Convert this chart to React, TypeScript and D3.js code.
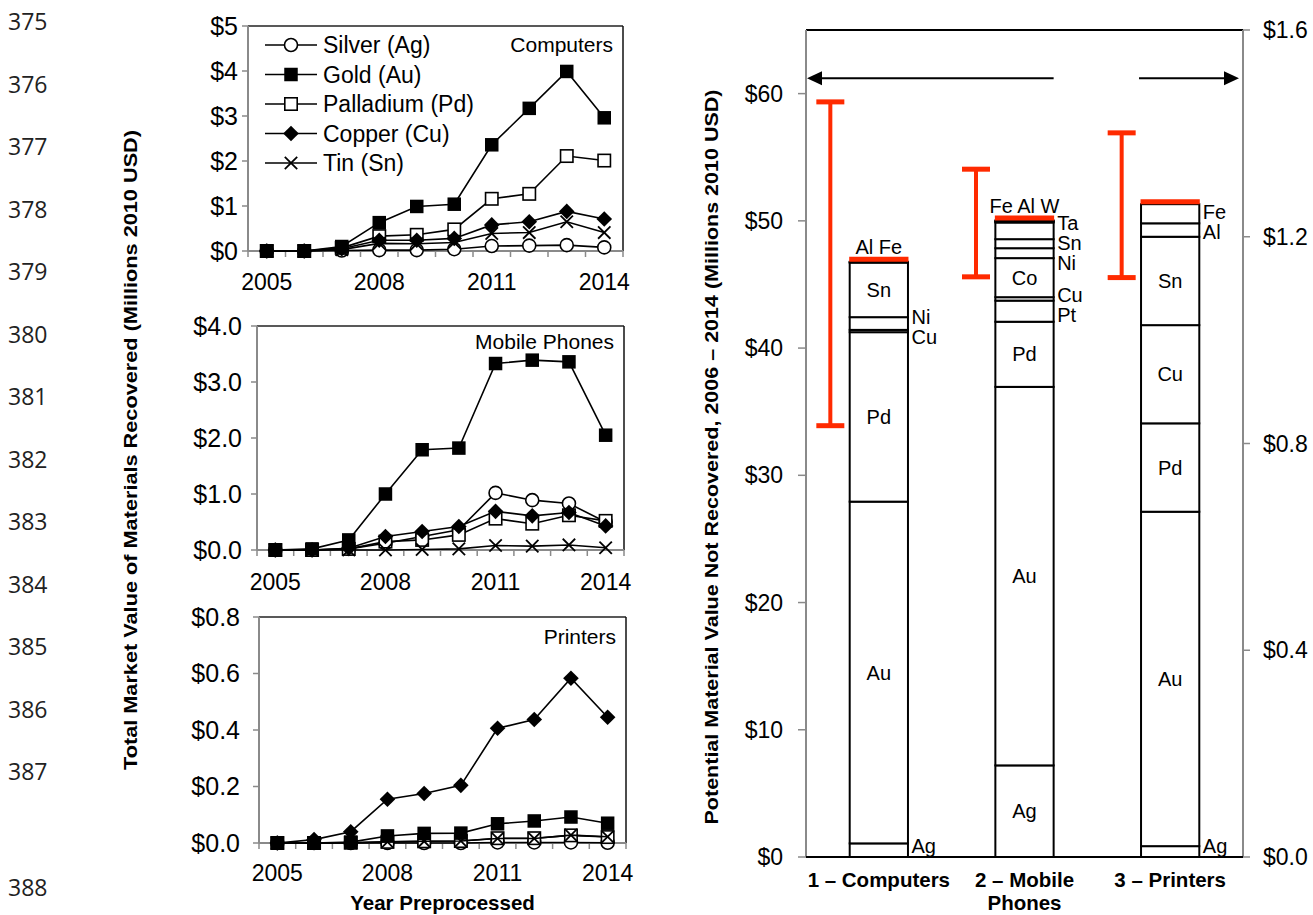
import React from "react";
import * as d3 from "d3";

// ---------------- DATA ----------------
const lineNumbers = ["375", "376", "377", "378", "379", "380", "381", "382", "383", "384", "385", "386", "387", "388"];

const years = [2005, 2006, 2007, 2008, 2009, 2010, 2011, 2012, 2013, 2014];
const yearTickLabels = [2005, 2008, 2011, 2014];
const seriesNames = ["Silver (Ag)", "Gold (Au)", "Palladium (Pd)", "Copper (Cu)", "Tin (Sn)"];

const computersAg = [0, 0, 0.01, 0.02, 0.02, 0.04, 0.11, 0.12, 0.13, 0.08];
const computersAu = [0, 0, 0.1, 0.63, 0.99, 1.04, 2.36, 3.17, 3.99, 2.96];
const computersPd = [0, 0, 0.07, 0.33, 0.36, 0.48, 1.16, 1.27, 2.11, 2.01];
const computersCu = [0, 0, 0.05, 0.24, 0.24, 0.28, 0.58, 0.65, 0.88, 0.71];
const computersSn = [0, 0, 0.03, 0.17, 0.16, 0.19, 0.39, 0.41, 0.65, 0.41];
const computersTicks = [0, 1, 2, 3, 4, 5];

const mobileAg = [0, 0, 0.02, 0.12, 0.24, 0.36, 1.02, 0.89, 0.83, 0.5];
const mobileAu = [0, 0.02, 0.18, 1.0, 1.79, 1.82, 3.33, 3.39, 3.36, 2.05];
const mobilePd = [0, 0, 0.02, 0.15, 0.18, 0.27, 0.56, 0.47, 0.62, 0.52];
const mobileCu = [0, 0, 0.03, 0.24, 0.33, 0.42, 0.69, 0.61, 0.67, 0.43];
const mobileSn = [0, 0, 0, 0.0, 0.01, 0.02, 0.08, 0.07, 0.09, 0.04];
const mobileTicks = [0, 1, 2, 3, 4];

const printersAg = [0, 0, 0, 0, 0, 0, 0.002, 0.002, 0.002, 0.001];
const printersAu = [0, 0, 0.003, 0.025, 0.034, 0.035, 0.068, 0.078, 0.092, 0.07];
const printersPd = [0, 0, 0.001, 0.004, 0.006, 0.007, 0.017, 0.017, 0.027, 0.021];
const printersCu = [0, 0.012, 0.04, 0.155, 0.175, 0.204, 0.406, 0.437, 0.583, 0.445];
const printersSn = [0, 0, 0.001, 0.004, 0.006, 0.007, 0.016, 0.016, 0.028, 0.022];
const printersTicks = [0, 0.2, 0.4, 0.6, 0.8];

const panelTitles = ["Computers", "Mobile Phones", "Printers"];

const stackCategories = ["1 – Computers", "2 – Mobile Phones", "3 – Printers"];
const stackCategoryLines = [["1 – Computers"], ["2 – Mobile", "Phones"], ["3 – Printers"]];

const computersStackMetals = ["Ag", "Au", "Pd", "Cu", "Ni", "Sn", "Al", "Fe"];
const computersStackValues = [1.07, 26.86, 13.32, 0.18, 1.0, 4.29, 0.03, 0.03];

const mobileStackMetals = ["Ag", "Au", "Pd", "Pt", "Cu", "Co", "Ni", "Sn", "Ta", "Fe", "Al", "W"];
const mobileStackValues = [7.2, 29.75, 5.12, 1.66, 0.27, 3.07, 0.78, 0.71, 1.31, 0.06, 0.05, 0.05];

const printersStackMetals = ["Ag", "Au", "Pd", "Cu", "Sn", "Al", "Fe"];
const printersStackValues = [0.021, 0.647, 0.171, 0.19, 0.171, 0.026, 0.037];

const errorLow = [33.9, 45.6, 1.121];
const errorHigh = [59.35, 54.06, 1.401];
const stackAxisSide = ["left", "left", "right"];

const leftStackTicks = [0, 10, 20, 30, 40, 50, 60];
const rightStackTicks = [0, 0.4, 0.8, 1.2, 1.6];

// ---------------- STYLE / LAYOUT ----------------
const FONT = "'Liberation Sans', Arial, Helvetica, sans-serif";
const GRAY = "#8a8a8a";
const RED = "#ff2a00";
const markerTypes = ["circle", "square", "openSquare", "diamond", "cross"];
const drawOrder = [0, 2, 4, 3, 1];

const panelLayouts = [
  { left: 248, right: 623, top: 26, bottom: 251, labelRight: 238, yearY: 282, titleY: 45 },
  { left: 257, right: 624, top: 326, bottom: 550, labelRight: 242, yearY: 582, titleY: 342 },
  { left: 259, right: 626, top: 617, bottom: 843, labelRight: 240, yearY: 873, titleY: 637 },
];

const RC = { left: 806, right: 1243, top: 30, bottom: 857 };

function Marker({ type, x, y }: { type: string; x: number; y: number }) {
  if (type === "circle")
    return <circle cx={x} cy={y} r={6.5} fill="#fff" stroke="#000" strokeWidth={1.6} />;
  if (type === "square") return <rect x={x - 6.75} y={y - 6.75} width={13.5} height={13.5} fill="#000" />;
  if (type === "openSquare")
    return <rect x={x - 6.2} y={y - 6.2} width={12.4} height={12.4} fill="#fff" stroke="#000" strokeWidth={1.6} />;
  if (type === "diamond")
    return <path d={`M${x},${y - 7.8}L${x + 7.8},${y}L${x},${y + 7.8}L${x - 7.8},${y}Z`} fill="#000" />;
  return (
    <g stroke="#000" strokeWidth={1.8}>
      <line x1={x - 6.2} y1={y - 6.2} x2={x + 6.2} y2={y + 6.2} />
      <line x1={x - 6.2} y1={y + 6.2} x2={x + 6.2} y2={y - 6.2} />
    </g>
  );
}

function LinePanel({ idx, series, ticks, fmt, legend }: any) {
  const L = panelLayouts[idx];
  const x = d3.scaleBand<number>().domain(years).range([L.left, L.right]).paddingInner(0).paddingOuter(0);
  const bw = x.bandwidth();
  const cx = (yr: number) => (x(yr) as number) + bw / 2;
  const yMax = ticks[ticks.length - 1];
  const y = d3.scaleLinear().domain([0, yMax]).range([L.bottom, L.top]);
  const line = d3
    .line<number>()
    .x((_, i) => cx(years[i]))
    .y((d) => y(d));
  const boundaries = d3.range(years.length + 1).map((i) => L.left + i * bw);
  return (
    <g>
      <line x1={L.left} y1={L.top} x2={L.right} y2={L.top} stroke="#222" strokeWidth={1.5} />
      <line x1={L.right} y1={L.top} x2={L.right} y2={L.bottom} stroke="#111" strokeWidth={1.5} />
      <line x1={L.left} y1={L.top} x2={L.left} y2={L.bottom} stroke={GRAY} strokeWidth={2} />
      <line x1={L.left} y1={L.bottom} x2={L.right} y2={L.bottom} stroke={GRAY} strokeWidth={2} />
      {ticks.map((t: number) => (
        <g key={t}>
          <line x1={L.left - 6} x2={L.left} y1={y(t)} y2={y(t)} stroke={GRAY} strokeWidth={1.5} />
          <text x={L.labelRight} y={y(t)} dy="0.35em" textAnchor="end" fontSize={25} fontFamily={FONT}>
            {fmt(t)}
          </text>
        </g>
      ))}
      {boundaries.map((b, i) => (
        <line key={i} x1={b} x2={b} y1={L.bottom} y2={L.bottom + 6} stroke={GRAY} strokeWidth={1.5} />
      ))}
      {yearTickLabels.map((yr) => (
        <text key={yr} x={cx(yr)} y={L.yearY} dy="0.35em" textAnchor="middle" fontSize={23} fontFamily={FONT}>
          {yr}
        </text>
      ))}
      <text x={L.right - 10} y={L.titleY} dy="0.35em" textAnchor="end" fontSize={21} fontFamily={FONT}>
        {panelTitles[idx]}
      </text>
      {drawOrder.map((si) => (
        <g key={si}>
          <path d={line(series[si]) as string} fill="none" stroke="#000" strokeWidth={1.6} />
          {series[si].map((v: number, i: number) => (
            <Marker key={i} type={markerTypes[si]} x={cx(years[i])} y={y(v)} />
          ))}
        </g>
      ))}
      {legend &&
        seriesNames.map((name, i) => {
          const ly = 45 + i * 29.5;
          return (
            <g key={name}>
              <line x1={265} x2={317} y1={ly} y2={ly} stroke="#000" strokeWidth={1.6} />
              <Marker type={markerTypes[i]} x={291} y={ly} />
              <text x={323} y={ly} dy="0.35em" fontSize={23} fontFamily={FONT}>
                {name}
              </text>
            </g>
          );
        })}
    </g>
  );
}

function spreadLabels(items: { y0: number; y: number }[], gap: number) {
  const sorted = [...items].sort((a, b) => a.y0 - b.y0);
  let clusters = sorted.map((it) => ({ members: [it], c: it.y0 }));
  let merged = true;
  while (merged) {
    merged = false;
    for (let i = 0; i < clusters.length - 1; i++) {
      const a = clusters[i];
      const b = clusters[i + 1];
      const aBot = a.c + ((a.members.length - 1) * gap) / 2;
      const bTop = b.c - ((b.members.length - 1) * gap) / 2;
      if (bTop - aBot < gap) {
        const members = a.members.concat(b.members);
        clusters.splice(i, 2, { members, c: d3.mean(members, (m) => m.y0) as number });
        merged = true;
        break;
      }
    }
  }
  clusters.forEach((cl) =>
    cl.members.forEach((m, k) => {
      m.y = cl.c + (k - (cl.members.length - 1) / 2) * gap;
    })
  );
}

function StackChart() {
  const xB = d3
    .scaleBand<string>()
    .domain(stackCategories)
    .range([RC.left, RC.right])
    .paddingInner(0.6)
    .paddingOuter(0.3);
  const bw = xB.bandwidth();
  const yL = d3.scaleLinear().domain([0, 65]).range([RC.bottom, RC.top]);
  const yR = d3.scaleLinear().domain([0, 1.6]).range([RC.bottom, RC.top]);
  const stacks = [
    { metals: computersStackMetals, values: computersStackValues },
    { metals: mobileStackMetals, values: mobileStackValues },
    { metals: printersStackMetals, values: printersStackValues },
  ];
  const arrowY = yL(61.2);
  const mobX1 = (xB(stackCategories[1]) as number) + bw;
  const priX0 = xB(stackCategories[2]) as number;

  return (
    <g>
      <line x1={RC.left} x2={RC.right} y1={RC.top} y2={RC.top} stroke="#000" strokeWidth={2} />
      <line x1={RC.left} x2={RC.left} y1={RC.top} y2={RC.bottom} stroke={GRAY} strokeWidth={2} />
      <line x1={RC.right} x2={RC.right} y1={RC.top} y2={RC.bottom} stroke={GRAY} strokeWidth={2} />
      {leftStackTicks.map((t) => (
        <g key={t}>
          <line x1={RC.left - 8} x2={RC.left} y1={yL(t)} y2={yL(t)} stroke={GRAY} strokeWidth={1.5} />
          <text x={783} y={yL(t)} dy="0.35em" textAnchor="end" fontSize={23} fontFamily={FONT}>
            {"$" + t}
          </text>
        </g>
      ))}
      {rightStackTicks.map((t) => (
        <g key={t}>
          <line x1={RC.right} x2={RC.right + 7} y1={yR(t)} y2={yR(t)} stroke={GRAY} strokeWidth={1.5} />
          <text x={1263} y={yR(t)} dy="0.35em" textAnchor="start" fontSize={23} fontFamily={FONT}>
            {"$" + t.toFixed(1)}
          </text>
        </g>
      ))}

      {stacks.map((s, i) => {
        const y = stackAxisSide[i] === "left" ? yL : yR;
        const x0 = xB(stackCategories[i]) as number;
        const xc = x0 + bw / 2;
        const cum = Array.from(d3.cumsum(s.values));
        const segs = s.values.map((v, j) => {
          const lo = cum[j] - v;
          const hi = cum[j];
          return { metal: s.metals[j], yTop: y(hi), yBot: y(lo), h: y(lo) - y(hi) };
        });
        let k = segs.length - 1;
        while (k >= 0 && segs[k].h < 3) k--;
        const topSegs = segs.slice(k + 1);
        const restSegs = segs.slice(0, k + 1);
        const inside = restSegs.filter((sg) => sg.h >= 30);
        const right = restSegs
          .filter((sg) => sg.h < 30)
          .map((sg) => ({ metal: sg.metal, y0: (sg.yTop + sg.yBot) / 2, y: 0 }));
        spreadLabels(right, 20);
        right.forEach((r) => (r.y = Math.min(r.y, RC.bottom - 11)));
        const total = cum[cum.length - 1];
        const redY = y(total) - 2.5;
        const ex = xc - 48.5;
        return (
          <g key={i}>
            {segs.map((sg, j) => (
              <rect
                key={j}
                x={x0}
                y={sg.yTop}
                width={bw}
                height={Math.max(sg.h, 0.01)}
                fill="#fff"
                stroke="#000"
                strokeWidth={2}
              />
            ))}
            <line x1={x0 - 0.5} x2={x0 + bw + 0.5} y1={redY} y2={redY} stroke={RED} strokeWidth={5} />
            {inside.map((sg) => (
              <text
                key={sg.metal}
                x={xc}
                y={(sg.yTop + sg.yBot) / 2}
                dy="0.35em"
                textAnchor="middle"
                fontSize={20}
                fontFamily={FONT}
              >
                {sg.metal}
              </text>
            ))}
            {right.map((r) => (
              <text key={r.metal} x={x0 + bw + 3.5} y={r.y} dy="0.35em" fontSize={20} fontFamily={FONT}>
                {r.metal}
              </text>
            ))}
            {topSegs.length > 0 && (
              <text x={xc} y={redY - 12} dy="0.35em" textAnchor="middle" fontSize={20} fontFamily={FONT}>
                {topSegs.map((t) => t.metal).join(" ")}
              </text>
            )}
            <g stroke={RED}>
              <line x1={ex} x2={ex} y1={y(errorLow[i])} y2={y(errorHigh[i])} strokeWidth={4} />
              <line x1={ex - 14} x2={ex + 14} y1={y(errorLow[i])} y2={y(errorLow[i])} strokeWidth={5} />
              <line x1={ex - 14} x2={ex + 14} y1={y(errorHigh[i])} y2={y(errorHigh[i])} strokeWidth={5} />
            </g>
            {stackCategoryLines[i].map((ln, li) => (
              <text
                key={li}
                x={xc}
                y={880 + li * 23}
                dy="0.35em"
                textAnchor="middle"
                fontSize={20.5}
                fontWeight="bold"
                fontFamily={FONT}
              >
                {ln}
              </text>
            ))}
          </g>
        );
      })}
      <line x1={RC.left} x2={RC.right} y1={RC.bottom} y2={RC.bottom} stroke="#000" strokeWidth={2} />

      <line x1={mobX1} x2={RC.left + 14} y1={arrowY} y2={arrowY} stroke="#000" strokeWidth={2} />
      <path
        d={`M${RC.left + 1},${arrowY}L${RC.left + 16},${arrowY - 7}L${RC.left + 16},${arrowY + 7}Z`}
        fill="#000"
      />
      <line x1={priX0 - 2} x2={RC.right - 16} y1={arrowY} y2={arrowY} stroke="#000" strokeWidth={2} />
      <path
        d={`M${RC.right - 4},${arrowY}L${RC.right - 19},${arrowY - 7}L${RC.right - 19},${arrowY + 7}Z`}
        fill="#000"
      />

      <text
        transform={`translate(712,457) rotate(-90)`}
        dy="0.35em"
        textAnchor="middle"
        fontSize={17.5}
        fontWeight="bold"
        fontFamily={FONT}
        textLength={735}
        lengthAdjust="spacingAndGlyphs"
      >
        Potential Material Value Not Recovered, 2006 – 2014 (Millions 2010 USD)
      </text>
    </g>
  );
}

export default function App() {
  const fmtInt = (d: number) => "$" + d;
  const fmt1 = (d: number) => "$" + d.toFixed(1);
  return (
    <div style={{ position: "absolute", left: 0, top: 0 }}>
      <svg width={1313} height={915} style={{ display: "block", background: "#fff" }}>
        {lineNumbers.map((n, i) => (
          <text
            key={n}
            x={8}
            y={i < 13 ? 22 + i * 62.5 : 888}
            dy="0.35em"
            fontSize={23}
            fill="#222"
            fontFamily="'Open Sans', 'Noto Sans', sans-serif"
          >
            {n}
          </text>
        ))}
        <text
          transform={`translate(130,450) rotate(-90)`}
          dy="0.35em"
          textAnchor="middle"
          fontSize={19}
          fontWeight="bold"
          fontFamily={FONT}
          textLength={640}
          lengthAdjust="spacingAndGlyphs"
        >
          Total Market Value of Materials Recovered (Millions 2010 USD)
        </text>
        <LinePanel
          idx={0}
          series={[computersAg, computersAu, computersPd, computersCu, computersSn]}
          ticks={computersTicks}
          fmt={fmtInt}
          legend
        />
        <LinePanel
          idx={1}
          series={[mobileAg, mobileAu, mobilePd, mobileCu, mobileSn]}
          ticks={mobileTicks}
          fmt={fmt1}
        />
        <LinePanel
          idx={2}
          series={[printersAg, printersAu, printersPd, printersCu, printersSn]}
          ticks={printersTicks}
          fmt={fmt1}
        />
        <text x={442.5} y={903} dy="0.35em" textAnchor="middle" fontSize={20.5} fontWeight="bold" fontFamily={FONT}>
          Year Preprocessed
        </text>
        <StackChart />
      </svg>
    </div>
  );
}
